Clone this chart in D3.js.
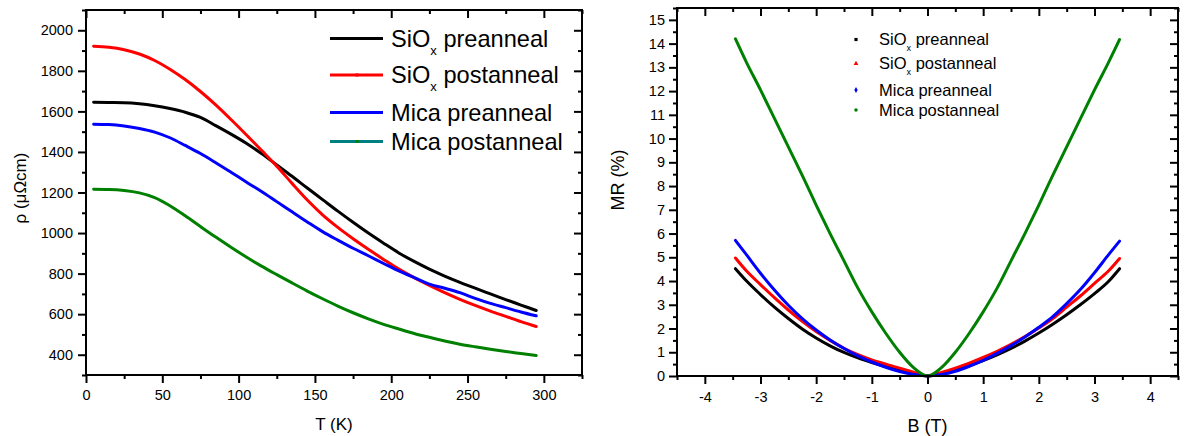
<!DOCTYPE html>
<html>
<head>
<meta charset="utf-8">
<script src="https://cdn.jsdelivr.net/npm/d3@7"></script>
<style>
body { margin: 0; background: #fff; }
svg { font-family: "Liberation Sans", Arial, sans-serif; }
.axis line { stroke: #000; stroke-width: 2px; }
.axis text { fill: #000; }
.frame { fill: none; stroke: #000; stroke-width: 2px; }
.line-path { fill: none; stroke-width: 3px; stroke-linejoin: round; stroke-linecap: round; }
</style>
</head>
<body>
<svg id="chart" width="1189" height="436"></svg>
<script>
// ---- left panel: resistivity vs temperature ----
var temps = [5, 15, 25, 35, 45, 55, 65, 75, 85, 95, 105, 115, 125, 135, 145, 155, 165, 175, 185, 195, 205, 215, 225, 235, 245, 255, 265, 275, 285, 295];
var rhoSiOxPre  = [1645, 1644, 1643, 1638, 1628, 1614, 1596, 1570, 1530, 1488, 1443, 1392, 1336, 1280, 1222, 1165, 1108, 1053, 1000, 950, 902, 860, 822, 788, 757, 728, 700, 672, 645, 618];
var rhoSiOxPost = [1921, 1916, 1904, 1883, 1851, 1808, 1757, 1698, 1632, 1560, 1485, 1408, 1330, 1245, 1163, 1090, 1028, 972, 920, 870, 822, 780, 742, 706, 673, 643, 615, 589, 563, 539];
var rhoMicaPre  = [1537, 1535, 1528, 1516, 1498, 1470, 1432, 1392, 1347, 1300, 1252, 1205, 1155, 1105, 1055, 1007, 965, 925, 888, 850, 813, 780, 748, 728, 706, 678, 653, 632, 611, 592];
var rhoMicaPost = [1216, 1215, 1210, 1198, 1175, 1135, 1085, 1032, 980, 930, 882, 837, 795, 754, 714, 676, 640, 607, 577, 550, 527, 505, 486, 468, 452, 439, 427, 416, 406, 396];
var tTicks = [0, 50, 100, 150, 200, 250, 300];
var tMinor = [25, 75, 125, 175, 225, 275, 325];
var rhoTicks = [400, 600, 800, 1000, 1200, 1400, 1600, 1800, 2000];
var rhoMinor = [300, 500, 700, 900, 1100, 1300, 1500, 1700, 1900, 2100];

// ---- right panel: magnetoresistance vs field ----
var fields = [-3.45, -3.25, -3.0, -2.75, -2.5, -2.25, -2.0, -1.75, -1.5, -1.25, -1.0, -0.75, -0.5, -0.25, 0, 0.25, 0.5, 0.75, 1.0, 1.25, 1.5, 1.75, 2.0, 2.25, 2.5, 2.75, 3.0, 3.25, 3.45];
var mrSiOxPre  = [4.52, 4.0, 3.43, 2.9, 2.42, 1.98, 1.6, 1.27, 0.99, 0.76, 0.57, 0.4, 0.25, 0.1, 0, 0.1, 0.25, 0.44, 0.65, 0.89, 1.16, 1.47, 1.81, 2.18, 2.58, 3.01, 3.47, 3.98, 4.52];
var mrSiOxPost = [4.97, 4.42, 3.85, 3.3, 2.78, 2.3, 1.87, 1.5, 1.17, 0.9, 0.68, 0.5, 0.33, 0.16, 0, 0.15, 0.33, 0.54, 0.78, 1.04, 1.33, 1.66, 2.02, 2.42, 2.9, 3.38, 3.9, 4.42, 4.95];
var mrMicaPre  = [5.71, 5.1, 4.33, 3.62, 2.98, 2.42, 1.94, 1.52, 1.16, 0.85, 0.59, 0.37, 0.19, 0.06, 0, 0.06, 0.2, 0.41, 0.66, 0.95, 1.28, 1.64, 2.05, 2.5, 3.05, 3.65, 4.35, 5.1, 5.68];
var mrMicaPost = [14.2, 13.2, 12.05, 10.85, 9.65, 8.45, 7.2, 6.0, 4.85, 3.7, 2.7, 1.8, 1.0, 0.35, 0, 0.35, 1.0, 1.8, 2.7, 3.7, 4.85, 6.0, 7.2, 8.45, 9.65, 10.85, 12.05, 13.2, 14.17];
var bTicks = [-4, -3, -2, -1, 0, 1, 2, 3, 4];
var bMinor = [-4.5, -3.5, -2.5, -1.5, -0.5, 0.5, 1.5, 2.5, 3.5, 4.5];
var mrTicks = d3.range(0, 16);
var mrMinor = [0.5, 1.5, 2.5, 3.5, 4.5, 5.5, 6.5, 7.5, 8.5, 9.5, 10.5, 11.5, 12.5, 13.5, 14.5, 15.5];

var seriesNames = ["SiOx preanneal", "SiOx postanneal", "Mica preanneal", "Mica postanneal"];
var seriesColors = ["#000000", "#ff0000", "#0000ff", "#008000"];
var legendLineColors = ["#000000", "#ff0000", "#0000ff", "#008080"];

var svg = d3.select("#chart");

// writes "SiOx ..." with a subscript x
function writeLabel(textSel, name, size) {
    if (name.indexOf("SiOx") === 0) {
        textSel.append("tspan").text("SiO");
        textSel.append("tspan").text("x")
            .attr("font-size", size * 0.55)
            .attr("dy", size * 0.33);
        textSel.append("tspan").text(name.slice(4))
            .attr("dy", -size * 0.33);
    } else {
        textSel.text(name);
    }
}

function drawPanel(p) {
    var x = d3.scaleLinear().domain(p.xDomain).range([p.left, p.right]);
    var y = d3.scaleLinear().domain(p.yDomain).range([p.bottom, p.top]);
    var fmt = function(d){ return String(d); };
    var g = svg.append("g");

    // series
    p.series.forEach(function(s){
        var pts = s.values.map(function(v, i){ return [p.xs[i], v]; });
        var line = d3.line()
            .x(function(d){ return x(d[0]); })
            .y(function(d){ return y(d[1]); })
            .curve(d3.curveMonotoneX);
        g.append("path")
            .attr("class", "line-path")
            .attr("stroke", s.color)
            .attr("d", line(pts));
    });

    // bottom + left with labels
    g.append("g").attr("class", "axis")
        .attr("transform", "translate(0," + p.bottom + ")")
        .call(d3.axisBottom(x).tickValues(p.xTicks).tickSize(8).tickPadding(p.xPad).tickFormat(fmt))
        .attr("font-size", p.tickFont).attr("font-family", null);
    g.append("g").attr("class", "axis")
        .attr("transform", "translate(0," + p.bottom + ")")
        .call(d3.axisBottom(x).tickValues(p.xMinor).tickSize(4).tickFormat(""));
    g.append("g").attr("class", "axis")
        .attr("transform", "translate(" + p.left + ",0)")
        .call(d3.axisLeft(y).tickValues(p.yTicks).tickSize(8).tickPadding(p.yPad).tickFormat(fmt))
        .attr("font-size", p.tickFont).attr("font-family", null);
    g.append("g").attr("class", "axis")
        .attr("transform", "translate(" + p.left + ",0)")
        .call(d3.axisLeft(y).tickValues(p.yMinor).tickSize(4).tickFormat(""));

    // mirrored top + right, ticks inward
    g.append("g").attr("class", "axis")
        .attr("transform", "translate(0," + p.top + ")")
        .call(d3.axisTop(x).tickValues(p.xTicks).tickSize(-8).tickFormat(""));
    g.append("g").attr("class", "axis")
        .attr("transform", "translate(0," + p.top + ")")
        .call(d3.axisTop(x).tickValues(p.xMinor).tickSize(-4).tickFormat(""));
    g.append("g").attr("class", "axis")
        .attr("transform", "translate(" + p.right + ",0)")
        .call(d3.axisRight(y).tickValues(p.yTicks).tickSize(-8).tickFormat(""));
    g.append("g").attr("class", "axis")
        .attr("transform", "translate(" + p.right + ",0)")
        .call(d3.axisRight(y).tickValues(p.yMinor).tickSize(-4).tickFormat(""));

    g.selectAll(".domain").remove();

    g.append("rect")
        .attr("class", "frame")
        .attr("x", p.left).attr("y", p.top)
        .attr("width", p.right - p.left)
        .attr("height", p.bottom - p.top);

    // axis titles
    g.append("text")
        .attr("x", (p.left + p.right) / 2)
        .attr("y", p.xTitleY)
        .attr("text-anchor", "middle")
        .attr("font-size", p.titleFont)
        .text(p.xTitle);
    g.append("text")
        .attr("transform", "translate(" + p.yTitleX + "," + p.yTitleY + ") rotate(-90)")
        .attr("text-anchor", "middle")
        .attr("font-size", p.titleFont)
        .text(p.yTitle);

    return { x: x, y: y, g: g };
}

// left panel
var leftPanel = drawPanel({
    left: 86, right: 582, top: 10, bottom: 375,
    xDomain: [0, 325], yDomain: [300, 2100],
    xs: temps,
    xTicks: tTicks, xMinor: tMinor, yTicks: rhoTicks, yMinor: rhoMinor,
    xPad: 7, yPad: 5, tickFont: 14.5, titleFont: 17,
    xTitle: "T (K)", xTitleY: 430,
    yTitle: "ρ (μΩcm)", yTitleX: 26, yTitleY: 188,
    series: [
        { values: rhoSiOxPre, color: seriesColors[0] },
        { values: rhoSiOxPost, color: seriesColors[1] },
        { values: rhoMicaPre, color: seriesColors[2] },
        { values: rhoMicaPost, color: seriesColors[3] }
    ]
});

// left legend: line samples with tiny markers
var legL = leftPanel.g.append("g");
var legLRows = [38.5, 75, 112.5, 141.5];
seriesNames.forEach(function(name, i){
    var row = legL.append("g").attr("transform", "translate(0," + legLRows[i] + ")");
    row.append("line")
        .attr("x1", 330).attr("x2", 383).attr("y1", 0).attr("y2", 0)
        .attr("stroke", legendLineColors[i]).attr("stroke-width", 3);
    row.append("rect")
        .attr("x", 355.5).attr("y", -1.5).attr("width", 3).attr("height", 3)
        .attr("fill", seriesColors[i]);
    var t = row.append("text")
        .attr("x", 391).attr("y", 8.4)
        .attr("font-size", 23.6);
    writeLabel(t, name, 23.6);
});

// right panel
var rightPanel = drawPanel({
    left: 677, right: 1178, top: 8, bottom: 376,
    xDomain: [-4.5, 4.5], yDomain: [0, 15.5],
    xs: fields,
    xTicks: bTicks, xMinor: bMinor, yTicks: mrTicks, yMinor: mrMinor,
    xPad: 8, yPad: 4, tickFont: 14.5, titleFont: 18,
    xTitle: "B (T)", xTitleY: 432,
    yTitle: "MR (%)", yTitleX: 624, yTitleY: 180,
    series: [
        { values: mrSiOxPre, color: seriesColors[0] },
        { values: mrSiOxPost, color: seriesColors[1] },
        { values: mrMicaPre, color: seriesColors[2] },
        { values: mrMicaPost, color: seriesColors[3] }
    ]
});

// right legend: symbols only
var legR = rightPanel.g.append("g");
var legRRows = [39.5, 63.5, 90, 110];
var legRSymbols = [d3.symbolSquare, d3.symbolTriangle, d3.symbolDiamond, d3.symbolCircle];
seriesNames.forEach(function(name, i){
    var row = legR.append("g").attr("transform", "translate(0," + legRRows[i] + ")");
    row.append("path")
        .attr("transform", "translate(856,0)")
        .attr("d", d3.symbol().type(legRSymbols[i]).size(10)())
        .attr("fill", seriesColors[i]);
    var t = row.append("text")
        .attr("x", 879).attr("y", 5.9)
        .attr("font-size", 16.5);
    writeLabel(t, name, 16.5);
});
</script>
</body>
</html>
